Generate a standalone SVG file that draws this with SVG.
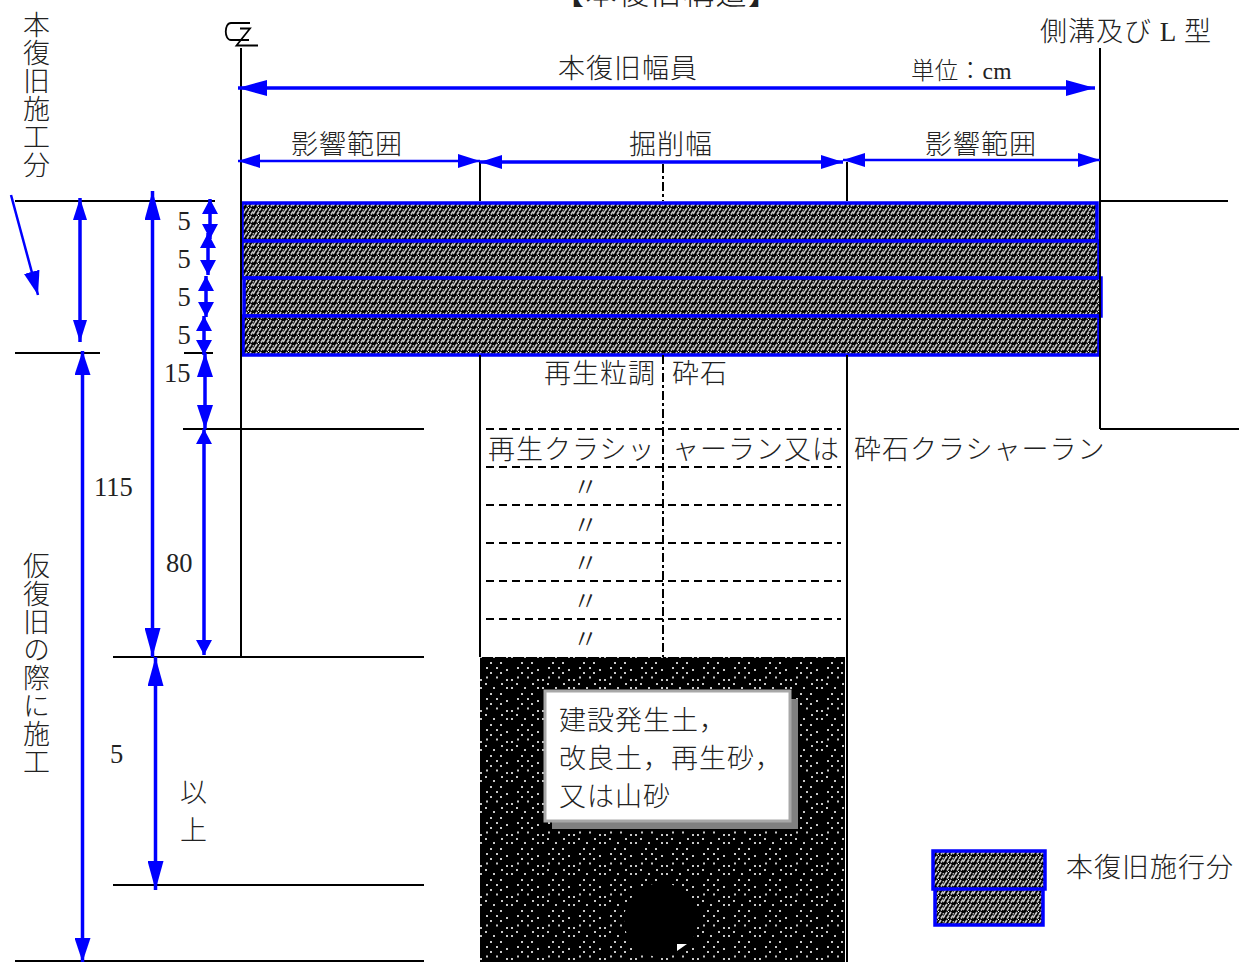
<svg xmlns="http://www.w3.org/2000/svg" width="1239" height="962" viewBox="0 0 1239 962">
<style>
text{font-family:"Liberation Serif","Noto Sans CJK JP",serif;font-size:27px;font-weight:300;fill:#222;letter-spacing:1px}
.n{font-size:26.500px;letter-spacing:0}
.v{writing-mode:vertical-rl}
.k{stroke:#000;stroke-width:2;fill:none}
.d{stroke:#000;stroke-width:2;fill:none;stroke-dasharray:8 5}
.c{stroke:#000;stroke-width:2;fill:none;stroke-dasharray:9 3 3 3}
.b{stroke:#00f;fill:none;stroke-width:3.500}
.t{stroke:#00f;fill:none;stroke-width:2.500}
.h{stroke:#00f;stroke-width:3.500;fill:url(#hatch)}
.xl{marker-start:url(#xl);marker-end:url(#xl)}
.lg{marker-start:url(#lg);marker-end:url(#lg)}
.md{marker-start:url(#md);marker-end:url(#md)}
.sm{marker-start:url(#sm);marker-end:url(#sm)}
</style>
<defs>
<pattern id="hatch" width="10" height="8" patternUnits="userSpaceOnUse" patternTransform="translate(243 203)">
<rect width="10" height="8" fill="#000"/>
<path d="M0 3L2 0M4 3.500L6 .5M8 3.500L10 .5M2 8L4 5M6 8L8 5M-1 8L.5 6M10 7.500L11 6" stroke="#c8c8c8" stroke-width="1.800" fill="none"/>
<path d="M5 4H6V5H5z" fill="#fff"/>
</pattern>
<pattern id="dots" width="31" height="31" patternUnits="userSpaceOnUse" patternTransform="translate(480 830)">
<rect width="31" height="31" fill="#000"/>
<g fill="#c8c8c8">
<rect x="6" y="1.500" width="2" height="2"/><rect x="16" y="1.500" width="2" height="2"/>
<rect x="26" y="4" width="2" height="2"/><rect x="0" y="4" width="2" height="2"/>
<rect x="26" y="12" width="2" height="2"/><rect x="0" y="12" width="2" height="2"/>
<rect x="20" y="18" width="2" height="2"/><rect x="10" y="18" width="2" height="2"/>
<rect x="6" y="23" width="2" height="2"/><rect x="16" y="23" width="2" height="2"/>
<rect x="20" y="28" width="2" height="2"/><rect x="10" y="28" width="2" height="2"/>
<rect x="21" y="8" width="2" height="2"/><rect x="5" y="8" width="2" height="2"/>
<rect x="13" y="12" width="2" height="2"/><rect x="26" y="25" width="2" height="2"/>
</g>
</pattern>
<marker id="xl" markerUnits="userSpaceOnUse" markerWidth="30" markerHeight="16" refX="29" refY="8" orient="auto-start-reverse"><path d="M0 0L29 8L0 16z" fill="#00f"/></marker>
<marker id="lg" markerUnits="userSpaceOnUse" markerWidth="25" markerHeight="16" refX="24" refY="8" orient="auto-start-reverse"><path d="M0 0L24 8L0 16z" fill="#00f"/></marker>
<marker id="md" markerUnits="userSpaceOnUse" markerWidth="23" markerHeight="14" refX="22" refY="7" orient="auto-start-reverse"><path d="M0 0L22 7L0 14z" fill="#00f"/></marker>
<marker id="sm" markerUnits="userSpaceOnUse" markerWidth="16" markerHeight="16" refX="15" refY="8" orient="auto-start-reverse"><path d="M0 0L15 8L0 16z" fill="#00f"/></marker>
</defs>

<g id="fill-base">
<rect x="480" y="657" width="365" height="305" fill="url(#dots)"/>
<circle cx="661" cy="920" r="37" fill="#000"/>
<path d="M677 944H687L677 951z" fill="#fff"/>
</g>

<g id="layers">
<rect class="h" x="242" y="203" width="855" height="38"/>
<rect class="h" x="242" y="241" width="857" height="37"/>
<rect class="h" x="244" y="278" width="857" height="38"/>
<rect class="h" x="243" y="316" width="856" height="39"/>
</g>

<g id="lines">
<path class="k" d="M241 48V657M1100 48V429M1100 201H1228M1100 429H1239"/>
<path class="k" d="M15 201H215M15 353H100M184 353H213M183 429H424M113 657H424M113 885H424M15 961H424"/>
<path class="k" d="M480 162V201M480 355V657M847 162V201M847 355V962"/>
<path class="d" d="M486 429H841M486 467H841M486 505H841M486 543H841M486 581H841M486 619H841"/>
<path class="c" d="M663 164V201M663 355V657"/>
</g>

<g id="connectors">
<path class="b xl" d="M238 88H1095"/>
<path class="t md" d="M238 161H480"/>
<path class="b md" d="M480 162H843"/>
<path class="t md" d="M843 160H1100"/>
<path class="b md" d="M80 198V342"/>
<path class="b lg" d="M82.500 351V962"/>
<path class="b xl" d="M152.500 191V657"/>
<path class="b xl" d="M155.500 657V890"/>
<path class="b sm" d="M204 429V655"/>
<path class="b sm" d="M210 199V239"/>
<path class="b sm" d="M208 233V275"/>
<path class="b sm" d="M206 276V317"/>
<path class="b sm" d="M204 316V355"/>
<path class="b lg" d="M205 353V429"/>
<path class="t" d="M11 195L38 295" marker-end="url(#lg)"/>
</g>

<g id="cl-symbol">
<path d="M250 23H231C224 23 224 40 231 40H249M240 28.500H250L236.500 45.500H258" fill="none" stroke="#000" stroke-width="1.800"/>
</g>

<g id="soil-box">
<rect x="552" y="699" width="246" height="130" fill="#808080"/>
<rect x="545" y="691" width="245" height="130" fill="#fff" stroke="#a8a8a8" stroke-width="3"/>
<text x="559" y="730">建設発生土，</text>
<text x="559" y="768">改良土，再生砂，</text>
<text x="559" y="806">又は山砂</text>
</g>

<g id="legend">
<rect class="h" x="935" y="886" width="108" height="39"/>
<rect class="h" x="933" y="851" width="112" height="38"/>
<text x="1066" y="877">本復旧施行分</text>
</g>

<g id="labels">
<text x="553" y="4" style="font-size:31px;letter-spacing:1.500px">【本復旧構造】</text>
<text class="v" x="34" y="11">本復旧施工分</text>
<text class="v" x="34" y="552">仮復旧の際に施工</text>
<text x="1040" y="41">側溝及び L 型</text>
<text x="558" y="78">本復旧幅員</text>
<text x="911" y="79" style="font-size:23.500px;letter-spacing:.3px">単位：cm</text>
<text x="291" y="154">影響範囲</text>
<text x="629" y="154">掘削幅</text>
<text x="925" y="154">影響範囲</text>
<text class="n" x="177.500" y="230">5</text>
<text class="n" x="177.500" y="268">5</text>
<text class="n" x="177.500" y="306">5</text>
<text class="n" x="177.500" y="344">5</text>
<text class="n" x="164" y="382">15</text>
<text class="n" x="94" y="496">115</text>
<text class="n" x="166" y="572">80</text>
<text class="n" x="110" y="763">5</text>
<text class="v" x="191" y="778" style="letter-spacing:11px">以上</text>
<text x="544" y="383">再生粒調</text>
<text x="672" y="383">砕石</text>
<text x="488" y="459">再生クラシッ</text>
<text x="672" y="459">ャーラン又は</text>
<text x="854" y="459">砕石クラシャーラン</text>
<text x="572" y="497">〃</text>
<text x="572" y="535">〃</text>
<text x="572" y="573">〃</text>
<text x="572" y="611">〃</text>
<text x="572" y="649">〃</text>
</g>
</svg>
